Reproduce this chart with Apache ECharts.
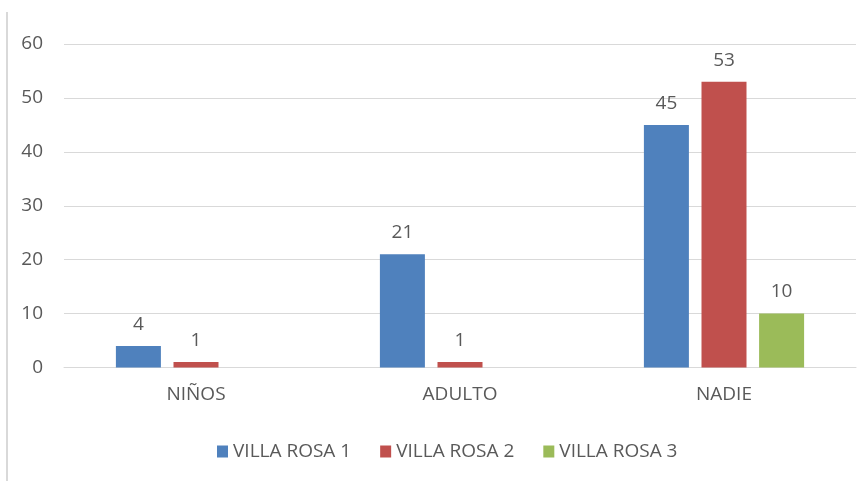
<!DOCTYPE html>
<html>
<head>
<meta charset="utf-8">
<script src="https://cdn.jsdelivr.net/npm/echarts@6/dist/echarts.min.js"></script>
<style>
html, body { margin: 0; padding: 0; background: #fff; }
#chart { width: 867px; height: 481px; }
</style>
</head>
<body>
<div id="chart"></div>
<script>
// 数据
var categories = ['NIÑOS', 'ADULTO', 'NADIE'];
var seriesNames = ['VILLA ROSA 1', 'VILLA ROSA 2', 'VILLA ROSA 3'];
var villaRosa1 = [4, 21, 45];
var villaRosa2 = [1, 1, 53];
var villaRosa3 = [null, null, 10];
var colors = ['#4F81BD', '#C0504D', '#9BBB59'];

var textColor = '#595959';
var fontFamily = '"Open Sans", sans-serif';

var myChart = echarts.init(document.getElementById('chart'));

function makeSeries(name, data, color) {
	return {
		name: name,
		type: 'bar',
		data: data,
		barWidth: 45,
		barGap: '28%',
		itemStyle: { color: color },
		label: {
			show: true,
			position: 'top',
			distance: 12,
			color: textColor,
			fontSize: 19,
			fontFamily: fontFamily
		}
	};
}

option = {
	animation: false,
	textStyle: { fontFamily: fontFamily },
	grid: { left: 64, right: 11, top: 44, bottom: 113.5 },
	legend: {
		top: 437,
		left: 212,
		itemWidth: 11,
		itemHeight: 12,
		itemGap: 29,
		icon: 'rect',
		textStyle: { color: textColor, fontSize: 19, fontFamily: fontFamily },
		data: seriesNames
	},
	xAxis: {
		type: 'category',
		data: categories,
		axisTick: { show: false },
		axisLine: { lineStyle: { color: '#d9d9d9' } },
		axisLabel: { color: textColor, fontSize: 19, margin: 18, fontFamily: fontFamily }
	},
	yAxis: {
		type: 'value',
		min: 0,
		max: 60,
		interval: 10,
		axisLine: { show: false },
		axisTick: { show: false },
		axisLabel: { color: textColor, fontSize: 19, margin: 21, fontFamily: fontFamily },
		splitLine: { lineStyle: { color: '#d9d9d9' } }
	},
	graphic: [{
		type: 'line',
		shape: { x1: 7, y1: 12, x2: 7, y2: 481 },
		style: { stroke: '#d9d9d9', lineWidth: 2 }
	}],
	series: [
		makeSeries(seriesNames[0], villaRosa1, colors[0]),
		makeSeries(seriesNames[1], villaRosa2, colors[1]),
		makeSeries(seriesNames[2], villaRosa3, colors[2])
	]
};

myChart.setOption(option);
</script>
</body>
</html>
